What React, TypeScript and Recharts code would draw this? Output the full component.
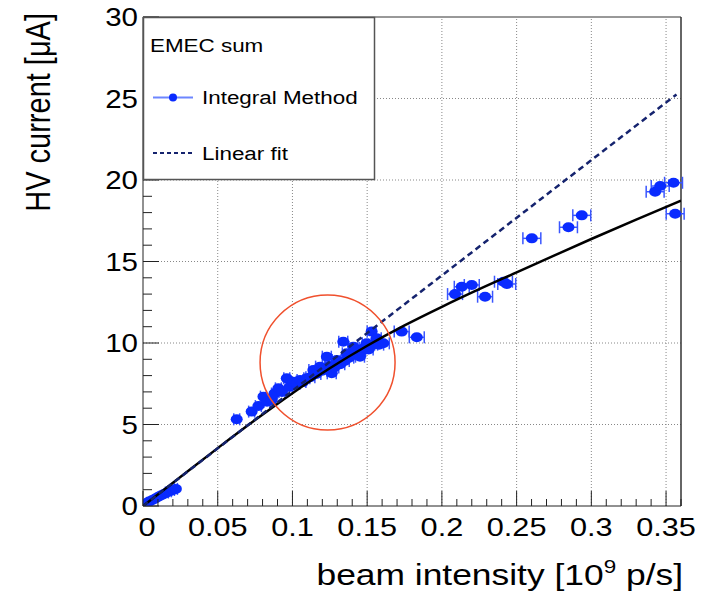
import React from "react";
import {
  ComposedChart,
  Line,
  Scatter,
  ErrorBar,
  XAxis,
  YAxis,
  ReferenceLine,
  ReferenceDot,
} from "recharts";

// measured points (Integral Method)
const beamIntensity = [
  0.001, 0.002, 0.003, 0.004, 0.006, 0.008, 0.01, 0.012, 0.014, 0.016, 0.018, 0.02, 0.022,
  0.0627, 0.0727, 0.0772, 0.0806, 0.083, 0.0861, 0.088, 0.0906, 0.093, 0.0962, 0.098, 0.1006,
  0.103, 0.1051, 0.107, 0.1096, 0.112, 0.114, 0.116, 0.1185, 0.12, 0.123, 0.125, 0.1263,
  0.128, 0.1296, 0.132, 0.134, 0.135, 0.1364, 0.138, 0.1408, 0.142, 0.1452, 0.146, 0.148,
  0.1497, 0.151, 0.153, 0.154, 0.1564, 0.158, 0.1608, 0.1731, 0.1832,
  0.2088, 0.2133, 0.22, 0.2289, 0.2412, 0.2434, 0.2602, 0.2847, 0.2936, 0.3427, 0.3461,
  0.355, 0.3561,
];
const hvCurrent = [
  0.08, 0.15, 0.2, 0.27, 0.35, 0.45, 0.55, 0.65, 0.74, 0.83, 0.9, 0.98, 1.05,
  5.32, 5.79, 6.13, 6.71, 6.4, 6.5, 6.9, 7.22, 7.0, 7.83, 7.3, 7.63,
  7.5, 7.73, 7.6, 7.83, 7.9, 8.34, 8.1, 8.55, 8.3, 9.16, 8.6, 8.14,
  8.5, 8.96, 8.7, 10.08, 8.9, 9.37, 9.1, 9.77, 9.3, 9.16, 9.5, 9.7,
  9.98, 9.6, 10.7, 9.9, 10.29, 9.9, 9.98, 10.7, 10.35,
  13.0, 13.45, 13.56, 12.84, 13.76, 13.62, 16.42, 17.1, 17.83, 19.28, 19.63,
  19.83, 17.93,
];
const beamError = [
  0, 0, 0, 0, 0, 0, 0, 0, 0, 0.001, 0.001, 0.001, 0.001,
  0.002, 0.002, 0.002, 0.002, 0.002, 0.002, 0.002, 0.002, 0.002, 0.002, 0.002, 0.002,
  0.002, 0.002, 0.002, 0.002, 0.003, 0.003, 0.003, 0.003, 0.003, 0.003, 0.003, 0.003,
  0.003, 0.003, 0.003, 0.003, 0.003, 0.003, 0.003, 0.003, 0.003, 0.003, 0.003, 0.003,
  0.003, 0.003, 0.003, 0.003, 0.003, 0.003, 0.004, 0.005, 0.005,
  0.005, 0.005, 0.005, 0.005, 0.006, 0.006, 0.006, 0.006, 0.006, 0.006, 0.006,
  0.006, 0.006,
];

// black curve
const curveX = [0, 0.025, 0.05, 0.075, 0.1, 0.125, 0.15, 0.175, 0.2, 0.225, 0.25, 0.275, 0.3, 0.33, 0.36];
const curveY = [0, 1.78, 3.55, 5.27, 6.92, 8.45, 9.83, 11.08, 12.22, 13.3, 14.33, 15.36, 16.38, 17.57, 18.73];

// linear fit
const fitX = [0, 0.357];
const fitY = [0, 25.25];

// highlighted region
const circleX = 0.1235;
const circleY = 8.8;

const xMajor = [0, 0.05, 0.1, 0.15, 0.2, 0.25, 0.3, 0.35];
const xLabels = ["0", "0.05", "0.1", "0.15", "0.2", "0.25", "0.3", "0.35"];
const xMinor = Array.from({ length: 37 }, (_, i) => i / 100);
const yMajor = [0, 5, 10, 15, 20, 25, 30];
const yLabels = ["0", "5", "10", "15", "20", "25", "30"];
const yMinor = Array.from({ length: 31 }, (_, i) => i);

const points = beamIntensity.map((x, i) => ({ x, y: hvCurrent[i], xErr: beamError[i] }));
const curve = curveX.map((x, i) => ({ x, y: curveY[i] }));
const fit = fitX.map((x, i) => ({ x, y: fitY[i] }));

const FONT = "'Liberation Sans', Arial, Helvetica, sans-serif";
const SX = 1.18;
const BLUE = "#0a2bff";

function StretchText({ x, y, size, anchor = "start", children }: any) {
  return (
    <text
      transform={`translate(${x},${y}) scale(${SX},1)`}
      fontFamily={FONT}
      fontSize={size}
      textAnchor={anchor}
      fill="#000"
    >
      {children}
    </text>
  );
}

function XTick({ x, y, payload }: any) {
  const idx = xMajor.findIndex((m) => Math.abs(m - payload.value) < 1e-9);
  const major = idx >= 0;
  return (
    <g>
      <line x1={x} x2={x} y1={y} y2={y - (major ? 15 : 7)} stroke="#222" strokeWidth={1} />
      {major && (
        <StretchText x={x + (idx === 0 ? 4 : 0)} y={y + 30} size={26} anchor="middle">
          {xLabels[idx]}
        </StretchText>
      )}
    </g>
  );
}

function YTick({ x, y, payload }: any) {
  const idx = yMajor.findIndex((m) => Math.abs(m - payload.value) < 1e-9);
  const major = idx >= 0;
  return (
    <g>
      <line x1={x} x2={x + (major ? 16 : 9)} y1={y} y2={y} stroke="#222" strokeWidth={1} />
      {major && (
        <StretchText x={x - 5} y={y + 9} size={25} anchor="end">
          {yLabels[idx]}
        </StretchText>
      )}
    </g>
  );
}

const dot = (props: any) => (
  <ellipse cx={props.cx} cy={props.cy} rx={6} ry={5} fill={BLUE} />
);

export default function App() {
  return (
    <div style={{ position: "absolute", left: 0, top: 0, width: 713, height: 594, background: "#fff" }}>
      <ComposedChart
        width={713}
        height={594}
        margin={{ top: 17, right: 32, bottom: 0, left: 0 }}
      >
        <XAxis
          dataKey="x"
          type="number"
          domain={[0, 0.36]}
          ticks={xMinor}
          interval={0}
          allowDataOverflow
          height={88}
          tickSize={0}
          tickMargin={0}
          tickLine={false}
          axisLine={{ stroke: "#222", strokeWidth: 1 }}
          tick={<XTick />}
        />
        <YAxis
          dataKey="y"
          type="number"
          domain={[0, 30]}
          ticks={yMinor}
          interval={0}
          allowDataOverflow
          width={143}
          tickSize={0}
          tickMargin={0}
          tickLine={false}
          axisLine={{ stroke: "#222", strokeWidth: 1 }}
          tick={<YTick />}
        />
        {xMajor.slice(1).map((v) => (
          <ReferenceLine key={"gx" + v} x={v} stroke="#888" strokeDasharray="1 2" />
        ))}
        {yMajor.slice(1, -1).map((v) => (
          <ReferenceLine key={"gy" + v} y={v} stroke="#888" strokeDasharray="1 2" />
        ))}
        <ReferenceLine x={0.36} stroke="#333" strokeWidth={1.5} />
        <ReferenceLine y={30} stroke="#333" strokeWidth={1} />
        <Scatter data={points} dataKey="y" shape={dot} isAnimationActive={false}>
          <ErrorBar dataKey="xErr" direction="x" stroke="#3a56ff" strokeWidth={1.5} width={6} />
        </Scatter>
        <Line
          data={curve}
          dataKey="y"
          type="monotone"
          stroke="#000"
          strokeWidth={2.5}
          dot={false}
          zIndex={700}
          isAnimationActive={false}
        />
        <Line
          data={fit}
          dataKey="y"
          type="linear"
          stroke="#15236e"
          strokeWidth={2.5}
          strokeDasharray="6 4"
          dot={false}
          zIndex={710}
          isAnimationActive={false}
        />
        <ReferenceDot
          x={circleX}
          y={circleY}
          r={67.5}
          fill="none"
          stroke="#f0502d"
          strokeWidth={1.5}
          zIndex={720}
        />
      </ComposedChart>
      <svg
        width={713}
        height={594}
        style={{ position: "absolute", left: 0, top: 0, pointerEvents: "none" }}
      >
        <rect x={143.5} y={17.5} width={231} height={162} fill="#fff" stroke="#555" strokeWidth={1.5} />
        <StretchText x={150} y={52} size={19}>EMEC sum</StretchText>
        <line x1={153} x2={193} y1={97.5} y2={97.5} stroke="#6d86ff" strokeWidth={2} />
        <circle cx={173} cy={97.5} r={4} fill={BLUE} />
        <StretchText x={202} y={104} size={19}>Integral Method</StretchText>
        <line x1={153} x2={193} y1={153} y2={153} stroke="#15236e" strokeWidth={2} strokeDasharray="4 3" />
        <StretchText x={202} y={160} size={19}>Linear fit</StretchText>
        <StretchText x={683} y={585} size={30} anchor="end">
          beam intensity [10
          <tspan dy={-12} fontSize={19}>9</tspan>
          <tspan dy={12}> p/s]</tspan>
        </StretchText>
        <text
          transform="translate(50,13) rotate(-90) scale(1,1.2)"
          fontFamily={FONT}
          fontSize={29}
          textAnchor="end"
          fill="#000"
        >
          HV current [μA]
        </text>
      </svg>
    </div>
  );
}
